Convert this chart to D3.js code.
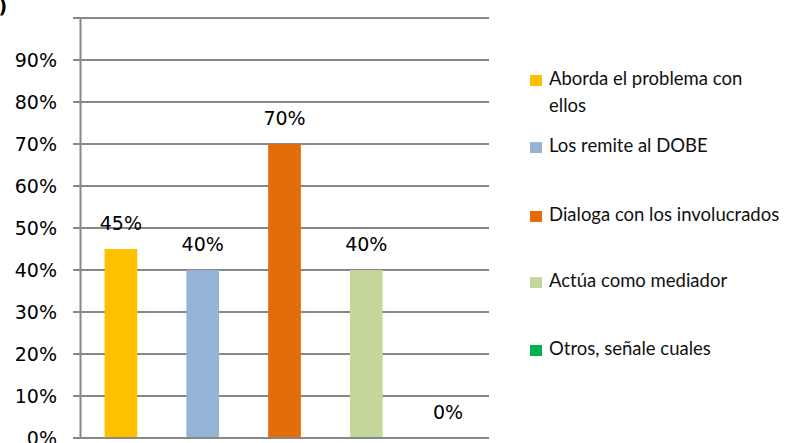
<!DOCTYPE html>
<html>
<head>
<meta charset="utf-8">
<script src="https://cdn.jsdelivr.net/npm/d3@7"></script>
<style>
  body { margin: 0; background: #fff; }
  svg { display: block; }
</style>
</head>
<body>
<div id="viz"></div>
<script>
let categories = ['Aborda el problema con ellos', 'Los remite al DOBE', 'Dialoga con los involucrados', 'Actúa como mediador', 'Otros, señale cuales'];
let values = [0.45, 0.40, 0.70, 0.40, 0.00];
let colors = ['#FFC000', '#95B3D7', '#E46C0A', '#C3D69B', '#00B050'];
let gridTicks = [0, 0.1, 0.2, 0.3, 0.4, 0.5, 0.6, 0.7, 0.8, 0.9, 1.0];
let labelTicks = [0, 0.1, 0.2, 0.3, 0.4, 0.5, 0.6, 0.7, 0.8, 0.9];
// legend text wrapped like the original
let legendLines = [['Aborda el problema con', 'ellos'], ['Los remite al DOBE'], ['Dialoga con los involucrados'], ['Actúa como mediador'], ['Otros, señale cuales']];

let width = 797, height = 443;
let plot = {left: 80, right: 489, top: 18, bottom: 438};

let svg = d3.select('#viz').append('svg')
    .attr('width', width)
    .attr('height', height);

let x = d3.scaleBand()
    .domain(categories)
    .range([plot.left, plot.right])
    .paddingInner(0.6)
    .paddingOuter(0.3);

let y = d3.scaleLinear()
    .domain([0, 1])
    .range([plot.bottom, plot.top]);

// gridlines
svg.append('g')
    .selectAll('line')
    .data(gridTicks)
    .enter()
    .append('line')
    .attr('x1', plot.left - 7)
    .attr('x2', plot.right)
    .attr('y1', d => y(d))
    .attr('y2', d => y(d))
    .attr('stroke', '#878787')
    .attr('stroke-width', 2);

// y axis line
svg.append('line')
    .attr('x1', plot.left + 0.5)
    .attr('x2', plot.left + 0.5)
    .attr('y1', plot.top)
    .attr('y2', plot.bottom)
    .attr('stroke', '#878787')
    .attr('stroke-width', 2);

// tick labels (the top one is not shown in the original)
svg.append('g')
    .selectAll('text')
    .data(labelTicks)
    .enter()
    .append('text')
    .attr('x', 57)
    .attr('y', d => y(d) + 7)
    .attr('text-anchor', 'end')
    .style('font-family', 'DejaVu Sans')
    .style('font-size', '19px')
    .attr('fill', '#000')
    .text(d => d3.format('.0%')(d));

// bars
svg.append('g')
    .selectAll('rect')
    .data(values)
    .enter()
    .append('rect')
    .attr('x', (d, i) => x(categories[i]))
    .attr('width', x.bandwidth())
    .attr('y', d => y(d))
    .attr('height', d => y(0) - y(d))
    .attr('fill', (d, i) => colors[i]);

// redraw the bottom line above bars
svg.append('line')
    .attr('x1', plot.left)
    .attr('x2', plot.right)
    .attr('y1', y(0))
    .attr('y2', y(0))
    .attr('stroke', '#878787')
    .attr('stroke-width', 2);

// value labels
svg.append('g')
    .selectAll('text')
    .data(values)
    .enter()
    .append('text')
    .attr('x', (d, i) => x(categories[i]) + x.bandwidth() / 2)
    .attr('y', d => y(d) - 19)
    .attr('text-anchor', 'middle')
    .style('font-family', 'DejaVu Sans')
    .style('font-size', '19px')
    .attr('fill', '#000')
    .text(d => d3.format('.0%')(d));

// legend
let legendY = [80, 147, 216, 282, 350];
let legend = svg.append('g')
    .selectAll('g')
    .data(categories)
    .enter()
    .append('g')
    .attr('transform', (d, i) => 'translate(530,' + legendY[i] + ')');

legend.append('rect')
    .attr('x', 0)
    .attr('y', -5)
    .attr('width', 12)
    .attr('height', 11)
    .attr('fill', (d, i) => colors[i]);

legend.each(function (d, i) {
    let t = d3.select(this).append('text')
        .attr('x', 19)
        .attr('y', 0)
        .style('font-family', 'Lato')
        .style('font-size', '18.5px')
        .attr('fill', '#111');
    legendLines[i].forEach((line, j) => {
        t.append('tspan')
            .attr('x', 19)
            .attr('dy', j === 0 ? 5 : 27)
            .text(line);
    });
});

// clipped label at top-left corner
svg.append('text')
    .attr('x', -15)
    .attr('y', 13)
    .style('font-family', 'DejaVu Sans')
    .style('font-size', '19px')
    .style('font-weight', 'bold')
    .text('b)');
</script>
</body>
</html>
